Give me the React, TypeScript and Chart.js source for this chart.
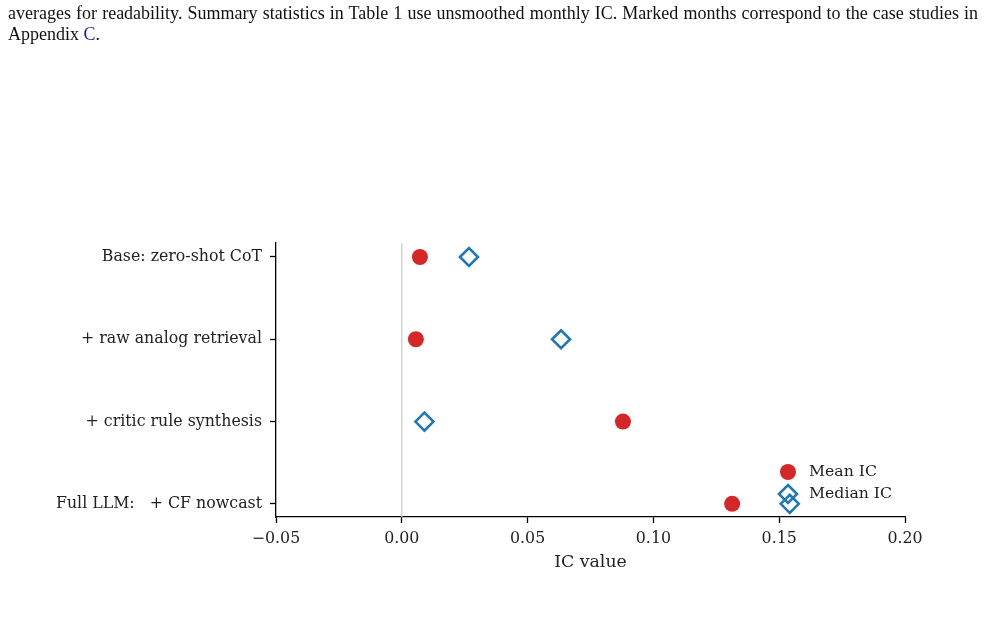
import React, { useEffect, useRef } from "react";
import { Chart, registerables } from "chart.js";

Chart.register(...registerables);

const categories = [
  "Base: zero-shot CoT",
  "+ raw analog retrieval",
  "+ critic rule synthesis",
  "Full LLM:   + CF nowcast",
];
const meanIC = [0.0072, 0.0056, 0.0879, 0.1313];
const medianIC = [0.0267, 0.0633, 0.009, 0.1542];
const xTicks = [-0.05, 0, 0.05, 0.1, 0.15, 0.2];
const xMin = -0.05;
const xMax = 0.2;
const yMin = -0.17;
const yMax = 3.16;

const RED = "#d62728";
const BLUE = "#1f77b4";
const SERIF = "'DejaVu Serif', serif";

const legendPlugin = {
  id: "customLegend",
  afterDraw(chart: any) {
    const { ctx, chartArea } = chart;
    const mx = chartArea.right - 117;
    const tx = chartArea.right - 96;
    const y1 = chartArea.bottom - 45;
    const y2 = chartArea.bottom - 23;
    ctx.save();
    ctx.fillStyle = RED;
    ctx.beginPath();
    ctx.arc(mx, y1, 8, 0, Math.PI * 2);
    ctx.fill();
    ctx.strokeStyle = BLUE;
    ctx.lineWidth = 2.6;
    ctx.beginPath();
    const r = 9;
    ctx.moveTo(mx, y2 - r);
    ctx.lineTo(mx + r, y2);
    ctx.lineTo(mx, y2 + r);
    ctx.lineTo(mx - r, y2);
    ctx.closePath();
    ctx.stroke();
    ctx.fillStyle = "#222";
    ctx.font = `15.7px ${SERIF}`;
    ctx.textBaseline = "middle";
    ctx.textAlign = "left";
    ctx.fillText("Mean IC", tx, y1);
    ctx.fillText("Median IC", tx, y2);
    ctx.restore();
  },
};

function ChartView() {
  const ref = useRef<HTMLCanvasElement | null>(null);
  useEffect(() => {
    if (!ref.current) return;
    const chart = new Chart(ref.current, {
      type: "scatter",
      data: {
        datasets: [
          {
            label: "Mean IC",
            data: meanIC.map((v, i) => ({ x: v, y: i })),
            backgroundColor: RED,
            borderColor: RED,
            pointRadius: 8,
            pointBorderWidth: 0,
            pointStyle: "circle",
          },
          {
            label: "Median IC",
            data: medianIC.map((v, i) => ({ x: v, y: i })),
            backgroundColor: "rgba(0,0,0,0)",
            borderColor: BLUE,
            pointRadius: 9,
            pointBorderWidth: 2.6,
            pointStyle: "rectRot",
          },
          {
            label: "zero",
            data: [
              { x: 0, y: yMin },
              { x: 0, y: yMax },
            ],
            showLine: true,
            borderColor: "#cccccc",
            borderWidth: 1.3,
            pointRadius: 0,
          } as any,
        ],
      },
      options: {
        responsive: false,
        animation: false,
        layout: { padding: { left: 0, top: 243, right: 80, bottom: 56 } },
        plugins: {
          legend: { display: false },
          tooltip: { enabled: false },
        },
        scales: {
          x: {
            type: "linear",
            min: xMin,
            max: xMax,
            afterBuildTicks: (s: any) => {
              s.ticks = xTicks.map((v) => ({ value: v }));
            },
            afterFit: (s: any) => {
              s.height = 56;
            },
            border: { color: "#000", width: 1.3 },
            grid: {
              drawOnChartArea: false,
              tickLength: 6,
              tickColor: "#000",
              tickWidth: 1.3,
            },
            ticks: {
              color: "#222",
              padding: 6,
              font: { family: SERIF, size: 15.8 },
              callback: (v: any) => Number(v).toFixed(2).replace("-", "\u2212"),
            },
            title: {
              display: true,
              text: "IC value",
              color: "#222",
              padding: { top: 0, bottom: 0 },
              font: { family: SERIF, size: 17.3 },
            },
          },
          y: {
            type: "linear",
            min: yMin,
            max: yMax,
            reverse: true,
            afterBuildTicks: (s: any) => {
              s.ticks = categories.map((_, i) => ({ value: i }));
            },
            afterFit: (s: any) => {
              s.width = 276;
            },
            border: { color: "#000", width: 1.3 },
            grid: {
              drawOnChartArea: false,
              tickLength: 6,
              tickColor: "#000",
              tickWidth: 1.3,
            },
            ticks: {
              color: "#222",
              padding: 8,
              font: { family: SERIF, size: 15.8 },
              callback: (v: any) => categories[Math.round(Number(v))] ?? "",
            },
          },
        },
      },
      plugins: [legendPlugin],
    });
    return () => chart.destroy();
  }, []);
  return (
    <canvas
      ref={ref}
      width={985}
      height={629}
      style={{ position: "absolute", left: 0, top: 0, width: 985, height: 629 }}
    />
  );
}

export default function App() {
  return (
    <div
      style={{
        position: "fixed",
        left: 0,
        top: 0,
        width: 985,
        height: 629,
        background: "#fff",
        overflow: "hidden",
      }}
    >
      <ChartView />
      <div
        style={{
          position: "absolute",
          left: 8,
          top: 3,
          width: 970,
          fontFamily: "'Liberation Serif', 'Times New Roman', serif",
          fontSize: 18,
          lineHeight: "21px",
          color: "#111",
        }}
      >
        <div style={{ textAlign: "justify", textAlignLast: "justify" }}>
          averages for readability. Summary statistics in Table 1 use unsmoothed monthly IC. Marked months correspond to the case studies in
        </div>
        <div>
          Appendix <span style={{ color: "#1f1fa0" }}>C</span>.
        </div>
      </div>
    </div>
  );
}
